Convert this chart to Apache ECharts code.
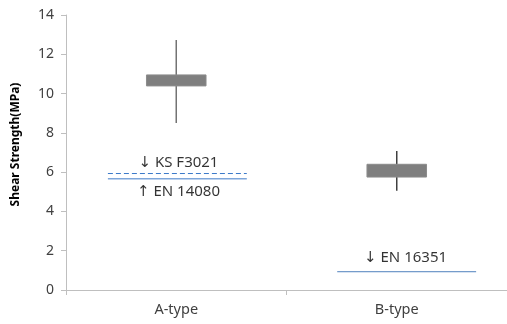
<!DOCTYPE html>
<html><head><meta charset="utf-8">
<script src="https://cdn.jsdelivr.net/npm/echarts@6/dist/echarts.min.js"></script>
<style>html,body{margin:0;padding:0;background:#fff}#c{width:507px;height:324px}</style>
</head><body><div id="c"></div>
<script>
// Data
var categories = ['A-type', 'B-type'];
// [open(bottom of box), close(top of box), low, high]
var boxes = [[10.39, 10.95, 8.5, 12.73], [5.75, 6.4, 5.05, 7.08]];
var wickColors = ['#737373', '#404040'];
var yTicks = {min: 0, max: 14, interval: 2};
// Threshold lines: [xStart, xEnd, value] in category-axis units (0..2)
var ksLine = [0.19, 0.82, 5.93];
var en14080Line = [0.19, 0.82, 5.67];
var en16351Line = [1.23, 1.86, 0.93];
// Annotations: [x, y, text]
var notes = [[0.51, 6.5, '↓ KS F3021'], [0.51, 5.0, '↑ EN 14080'], [1.54, 1.63, '↓ EN 16351']];

var font = '"Noto Sans", "DejaVu Sans", sans-serif';
var chart = echarts.init(document.getElementById('c'), null, {renderer: 'canvas'});

function seg(l) { return [[l[0], l[2]], [l[1], l[2]]]; }

chart.setOption({
  animation: false,
  grid: {left: 66, right: 0, top: 15, bottom: 34},
  xAxis: [{
    type: 'category', data: categories, boundaryGap: true,
    axisLine: {lineStyle: {color: '#bfbfbf', width: 1}},
    axisTick: {show: true, length: 5, lineStyle: {color: '#bfbfbf'}},
    axisLabel: {color: '#404040', fontSize: 14.5, fontFamily: font, margin: 12}
  }, {
    type: 'value', min: 0, max: 2, show: false
  }],
  yAxis: {
    type: 'value', min: yTicks.min, max: yTicks.max, interval: yTicks.interval,
    name: 'Shear Strength(MPa)', nameLocation: 'middle', nameGap: 44, nameRotate: 90,
    nameTextStyle: {fontWeight: 'bold', fontSize: 12, color: '#000', fontFamily: font, padding: [0, 0, 0, 16]},
    axisLine: {show: true, lineStyle: {color: '#bfbfbf', width: 1}},
    axisTick: {show: true, length: 5, lineStyle: {color: '#bfbfbf'}},
    splitLine: {show: false},
    axisLabel: {color: '#404040', fontSize: 14, fontFamily: font, margin: 12}
  },
  series: [{
    type: 'custom', xAxisIndex: 0,
    data: boxes.map(function (b, i) { return [i, b[0], b[1], b[2], b[3]]; }),
    renderItem: function (params, api) {
      var x = api.value(0);
      var o = api.coord([x, api.value(1)]);
      var c = api.coord([x, api.value(2)]);
      var lo = api.coord([x, api.value(3)]);
      var hi = api.coord([x, api.value(4)]);
      var w = api.size([1, 0])[0] * 0.27;
      return {type: 'group', children: [
        {type: 'line', shape: {x1: lo[0], y1: lo[1], x2: hi[0], y2: hi[1]},
         style: {stroke: wickColors[params.dataIndex], lineWidth: 1.5}},
        {type: 'rect', shape: {x: o[0] - w / 2, y: c[1], width: w, height: o[1] - c[1]},
         style: {fill: '#7f7f7f', stroke: '#8c8c8c', lineWidth: 1}}
      ]};
    }
  }, {
    type: 'line', xAxisIndex: 1, data: seg(ksLine), symbol: 'none',
    lineStyle: {color: '#3a78c9', width: 1, type: [5, 3]}
  }, {
    type: 'line', xAxisIndex: 1, data: seg(en14080Line), symbol: 'none',
    lineStyle: {color: '#7ea6da', width: 1.5}
  }, {
    type: 'line', xAxisIndex: 1, data: seg(en16351Line), symbol: 'none',
    lineStyle: {color: '#4f81bd', width: 1}
  }, {
    type: 'scatter', xAxisIndex: 1, symbolSize: 0,
    data: notes.map(function (n) { return {value: [n[0], n[1]], name: n[2]}; }),
    label: {show: true, position: 'inside', formatter: function (p) { return p.name; },
      color: '#000', fontSize: 15, fontFamily: font}
  }]
});
</script></body></html>
